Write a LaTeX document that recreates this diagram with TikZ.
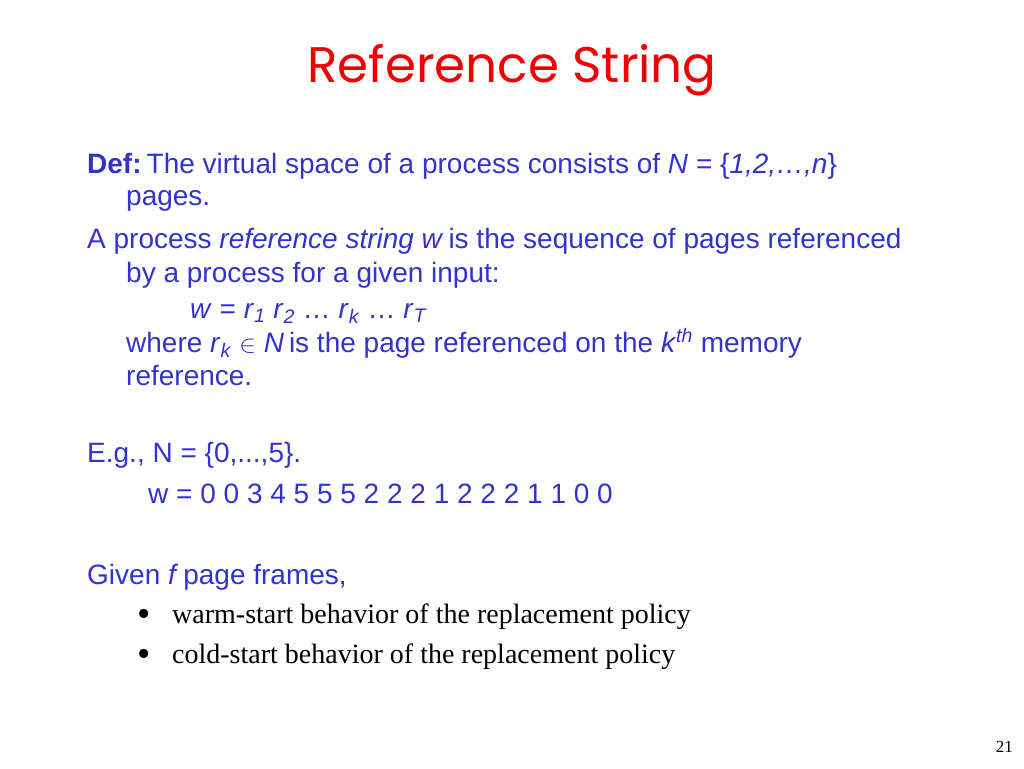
\documentclass[tikz,border=0pt]{standalone}
\usepackage{fontspec}
\setmainfont{Liberation Sans}
\newfontfamily\titlefont{Poppins}
\newfontfamily\timesfont{Liberation Serif}
\definecolor{slideblue}{RGB}{51,51,204}
\definecolor{slidered}{RGB}{240,0,0}
\tikzset{
  body/.style={anchor=base west,inner sep=0pt,text=slideblue,font=\fontsize{28}{32}\selectfont},
  itemtext/.style={anchor=base west,inner sep=0pt,font=\timesfont\fontsize{28}{32}\selectfont},
  itemdot/.style={anchor=base west,inner sep=0pt,font=\timesfont\fontsize{38}{40}\selectfont}
}

\begin{document}
\begin{tikzpicture}[x=1pt,y=-1pt]
\useasboundingbox (0,0) rectangle (1024,768);
\node[anchor=base,inner sep=0pt,text=slidered,font=\titlefont\fontsize{50}{60}\selectfont] (title) at (512,82) {Reference String};
\node[body] (def) at (87,173) {\textbf{Def:}\hspace{5pt}The virtual space of a process consists of \textit{N} = \{\textit{1,2,\ldots,n}\}};
\node[body] (pages) at (126,205) {pages.};
\node[body] (refstr) at (87,248) {A process \textit{reference string w}\hspace{5pt}is the sequence of pages referenced};
\node[body] (input) at (126,282) {by a process for a given input:};
\node[body] (wdef) at (190,318) {\textit{w} = \textit{r}\textsubscript{\textit{1}} \textit{r}\textsubscript{\textit{2}} \ldots\ \textit{r}\textsubscript{\textit{k}} \ldots\ \textit{r}\textsubscript{\textit{T}}};
\node[body] (where) at (126,352) {where \textit{r}\textsubscript{\textit{k}} $\in$ \textit{N}\hspace{5pt}is the page referenced on the \textit{k}\textsuperscript{\textit{th}} memory};
\node[body] (memref) at (126,385) {reference.};
\node[body] (eg) at (87,462) {E.g., N = \{0,...,5\}.};
\node[body] (wstr) at (148,503) {w = 0 0 3 4 5 5 5 2 2 2 1 2 2 2 1 1 0 0};
\node[body] (given) at (87,584) {Given \textit{f}\hspace{5pt}page frames,};
\node[itemdot] (dot1) at (137,626) {\textbullet};
\node[itemtext] (warm) at (172,623) {warm-start behavior of the replacement policy};
\node[itemdot] (dot2) at (137,666) {\textbullet};
\node[itemtext] (cold) at (172,663) {cold-start behavior of the replacement policy};
\node[anchor=base east,inner sep=0pt,font=\timesfont\fontsize{17}{20}\selectfont] (pagenum) at (1013,752) {21};
\end{tikzpicture}
\end{document}
